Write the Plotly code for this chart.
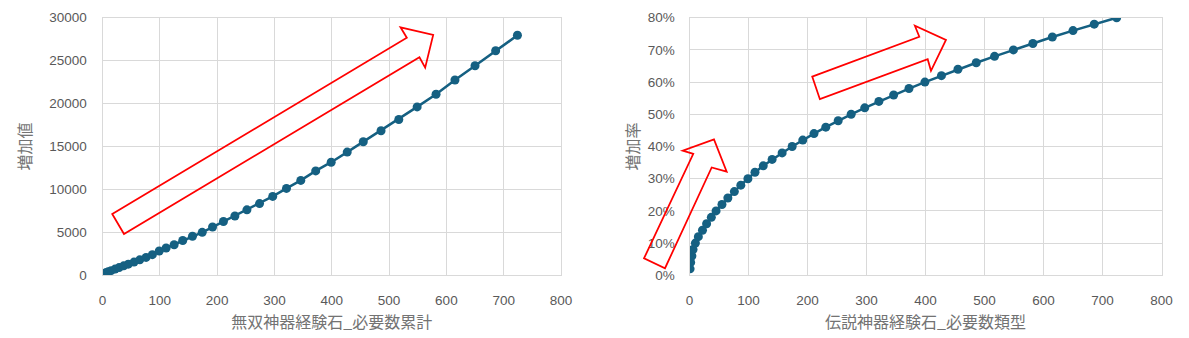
import plotly.graph_objects as go

# ---- data ----
need_count = [1, 2, 4, 6, 10, 15, 22, 29, 37, 45, 55, 65, 76, 87, 99, 111, 125, 140,
              157, 174, 192, 211, 231, 252, 274, 297, 321, 346, 372, 399, 427, 455,
              486, 517, 549, 582, 615, 650, 686, 724]
increase_value = [180, 200, 250, 310, 410, 540, 720, 900, 1100, 1300, 1540, 1800, 2080,
                  2400, 2830, 3180, 3560, 4050, 4550, 5000, 5620, 6260, 6900, 7620,
                  8350, 9190, 10120, 11050, 12160, 13170, 14350, 15550, 16830, 18150,
                  19610, 21080, 22750, 24400, 26150, 27950]
increase_rate = [0.02, 0.04, 0.06, 0.08, 0.10, 0.12, 0.14, 0.16, 0.18, 0.20,
                 0.22, 0.24, 0.26, 0.28, 0.30, 0.32, 0.34, 0.36, 0.38, 0.40,
                 0.42, 0.44, 0.46, 0.48, 0.50, 0.52, 0.54, 0.56, 0.58, 0.60,
                 0.62, 0.64, 0.66, 0.68, 0.70, 0.72, 0.74, 0.76, 0.78, 0.80]

x_title_left = "無双神器経験石_必要数累計"
x_title_right = "伝説神器経験石_必要数類型"
y_title_left = "増加値"
y_title_right = "増加率"

X_MAX = 800
Y_MAX_LEFT = 30000
Y_MAX_RIGHT = 0.8

# decorative block arrows (vertices in data units of each chart)
arrow_left = [(17, 7140), (531, 27670), (520, 28880), (577, 27985), (563, 24180),
              (553, 25390), (37.5, 4810)]
arrow_right_low = [(-77, 0.053), (6.4, 0.377), (-11.5, 0.387), (41.5, 0.422),
                   (63, 0.322), (37.6, 0.335), (-41.5, 0.022)]
arrow_right_high = [(208, 0.617), (389.5, 0.741), (382, 0.775), (434.7, 0.731),
                    (409.3, 0.635), (403.7, 0.671), (221, 0.547)]

W, H = 1189, 338
LINE = "#156082"
GRID = "#d9d9d9"
TICK_COLOR = "#595959"
TITLE_COLOR = "#737373"

fig = go.Figure()
fig.add_trace(go.Scatter(x=need_count, y=increase_value, mode="lines+markers",
                         line=dict(color=LINE, width=2.5),
                         marker=dict(size=9, color=LINE),
                         xaxis="x", yaxis="y", showlegend=False))
fig.add_trace(go.Scatter(x=need_count, y=increase_rate, mode="lines+markers",
                         line=dict(color=LINE, width=2.5),
                         marker=dict(size=9, color=LINE),
                         xaxis="x2", yaxis="y2", showlegend=False))

ydom = [1 - 275.3 / H, 1 - 17.7 / H]
tickfont = dict(family="Liberation Sans, Arial, sans-serif", size=13.5, color=TICK_COLOR)
titlefont = dict(family="Noto Sans CJK JP, sans-serif", size=16, color=TITLE_COLOR)

common = dict(showgrid=True, gridcolor=GRID, gridwidth=1, zeroline=False,
              showline=True, linecolor=GRID, linewidth=1, mirror=True,
              ticks="outside", tickcolor="rgba(0,0,0,0)", tickfont=tickfont,
              automargin=False)

def path_from(points, xmax, ymax):
    parts = []
    for i, (px, py) in enumerate(points):
        parts.append(("M" if i == 0 else "L") + f"{px / xmax:.5f},{py / ymax:.5f}")
    return " ".join(parts) + " Z"

shapes = []
for pts, xr, yr, ymax in [(arrow_left, "x domain", "y domain", Y_MAX_LEFT),
                          (arrow_right_low, "x2 domain", "y2 domain", Y_MAX_RIGHT),
                          (arrow_right_high, "x2 domain", "y2 domain", Y_MAX_RIGHT)]:
    shapes.append(dict(type="path", xref=xr, yref=yr, path=path_from(pts, X_MAX, ymax),
                       line=dict(color="#ff0000", width=1.75),
                       fillcolor="rgba(0,0,0,0)", layer="above"))

fig.update_layout(
    width=W, height=H, autosize=False,
    margin=dict(l=0, r=0, t=0, b=0),
    paper_bgcolor="white", plot_bgcolor="white",
    xaxis=dict(domain=[102.5 / W, 561 / W], range=[0, X_MAX], dtick=100, anchor="y",
               ticklen=12,
               title=dict(text=x_title_left, font=titlefont, standoff=10), **common),
    yaxis=dict(domain=ydom, range=[0, Y_MAX_LEFT], dtick=5000, tickformat="d", anchor="x",
               ticklen=12,
               title=dict(text=y_title_left, font=titlefont, standoff=13), **common),
    xaxis2=dict(domain=[689.5 / W, 1161.5 / W], range=[0, X_MAX], dtick=100, anchor="y2",
                ticklen=12,
                title=dict(text=x_title_right, font=titlefont, standoff=10), **common),
    yaxis2=dict(domain=ydom, range=[0, Y_MAX_RIGHT], dtick=0.1, tickformat=".0%",
                anchor="x2", ticklen=11,
                title=dict(text=y_title_right, font=titlefont, standoff=4), **common),
    shapes=shapes,
)

fig.write_html("out.html")
